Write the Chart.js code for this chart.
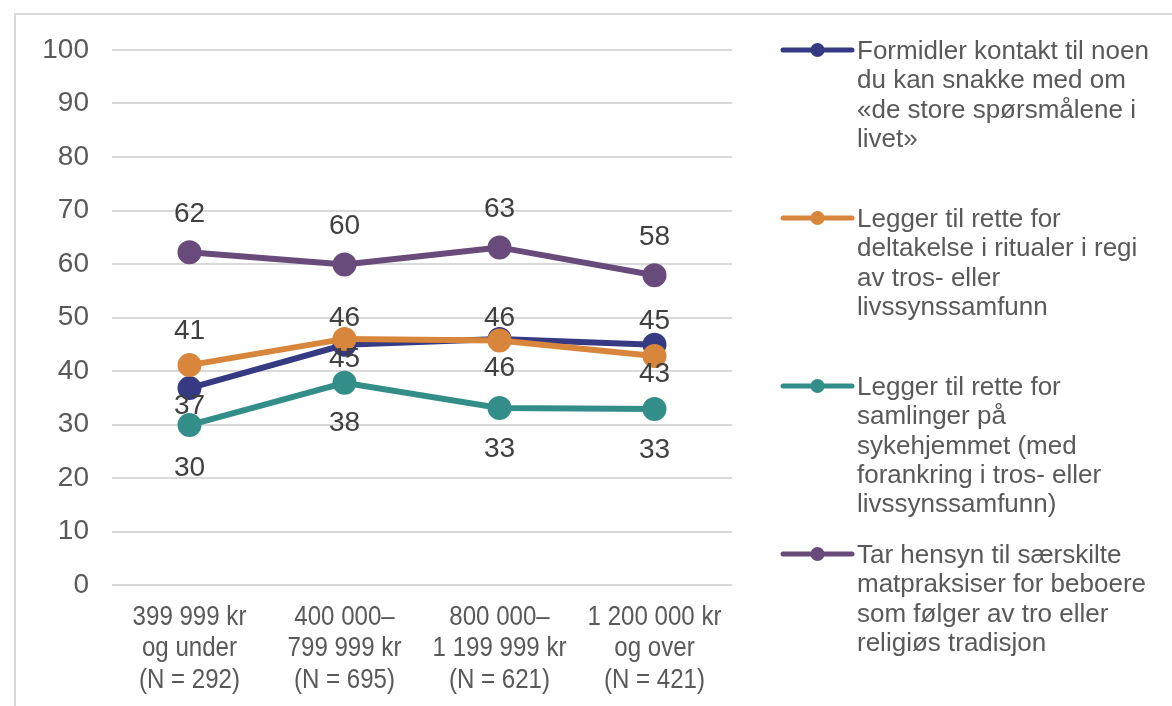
<!DOCTYPE html>
<html>
<head>
<meta charset="utf-8">
<script src="https://cdn.jsdelivr.net/npm/chart.js@4/dist/chart.umd.min.js"></script>
<style>
html,body{margin:0;padding:0;background:#fff;}
canvas{display:block;}
</style>
</head>
<body>
<canvas id="c" width="1172" height="706" style="width:1172px;height:706px"></canvas>
<script>
// ---- data ----
const categories = [
  ["399 999 kr", "og under", "(N = 292)"],
  ["400 000–", "799 999 kr", "(N = 695)"],
  ["800 000–", "1 199 999 kr", "(N = 621)"],
  ["1 200 000 kr", "og over", "(N = 421)"]
];
const seriesNames = [
  "Formidler kontakt til noen\ndu kan snakke med om\n«de store spørsmålene i\nlivet»",
  "Legger til rette for\ndeltakelse i ritualer i regi\nav tros- eller\nlivssynssamfunn",
  "Legger til rette for\nsamlinger på\nsykehjemmet (med\nforankring i tros- eller\nlivssynssamfunn)",
  "Tar hensyn til særskilte\nmatpraksiser for beboere\nsom følger av tro eller\nreligiøs tradisjon"
];
const kontakt = [36.8, 44.9, 46.0, 44.9];
const ritualer = [41.1, 46.0, 45.7, 42.8];
const samlinger = [29.9, 37.8, 33.1, 32.9];
const matpraksis = [62.2, 59.9, 63.1, 57.9];
const yTicks = [0, 10, 20, 30, 40, 50, 60, 70, 80, 90, 100];

// ---- styles ----
const colors = ["#353a83", "#d8863b", "#338e8a", "#684a7b"];
const labelOffsets = [
  [17, 13, -22, -25],
  [-35, -22, 27, 17],
  [42, 40, 40, 40],
  [-39, -39, -39, -39]
];
const FONT = "'Liberation Sans', Arial, sans-serif";

const allSeries = [kontakt, ritualer, samlinger, matpraksis];
const datasets = allSeries.map((d, i) => ({
  label: seriesNames[i],
  data: d,
  borderColor: colors[i],
  backgroundColor: colors[i],
  pointBackgroundColor: colors[i],
  pointBorderColor: colors[i],
  borderWidth: 6,
  pointRadius: 9,
  pointHoverRadius: 9,
  tension: 0,
  order: 4 - i
}));

const bgPlugin = {
  id: 'bg',
  beforeDraw(chart) {
    const ctx = chart.ctx;
    ctx.save();
    ctx.fillStyle = '#ffffff';
    ctx.fillRect(0, 0, chart.width, chart.height);
    ctx.strokeStyle = '#d9d9d9';
    ctx.lineWidth = 2;
    ctx.beginPath();
    ctx.moveTo(15, chart.height + 2);
    ctx.lineTo(15, 14);
    ctx.lineTo(chart.width + 2, 14);
    ctx.stroke();
    ctx.restore();
  }
};

// category labels drawn through the x scale, horizontally condensed like the original
const xLabelPlugin = {
  id: 'xlabels',
  afterDraw(chart) {
    const ctx = chart.ctx;
    const xs = chart.scales.x;
    ctx.save();
    ctx.font = "28px " + FONT;
    ctx.fillStyle = '#595959';
    ctx.textAlign = 'center';
    ctx.textBaseline = 'middle';
    chart.data.labels.forEach((lab, i) => {
      const x = xs.getPixelForTick(i);
      const lines = Array.isArray(lab) ? lab : [lab];
      lines.forEach((line, k) => {
        ctx.save();
        ctx.translate(x, xs.top + 32 + k * 31.5);
        ctx.scale(0.86, 1);
        ctx.fillText(line, 0, 0);
        ctx.restore();
      });
    });
    ctx.restore();
  }
};

const labelPlugin = {
  id: 'vlabels',
  afterDatasetsDraw(chart) {
    const ctx = chart.ctx;
    ctx.save();
    ctx.font = "28px " + FONT;
    ctx.fillStyle = '#404040';
    ctx.textAlign = 'center';
    ctx.textBaseline = 'middle';
    chart.data.datasets.forEach((ds, di) => {
      const meta = chart.getDatasetMeta(di);
      meta.data.forEach((pt, i) => {
        const v = Math.round(ds.data[i]);
        ctx.fillText(String(v), pt.x, pt.y + labelOffsets[di][i] + 1);
      });
    });
    ctx.restore();
  }
};

const legendPlugin = {
  id: 'customLegend',
  afterDraw(chart) {
    const ctx = chart.ctx;
    ctx.save();
    const x0 = 783, x1 = 852, tx = 857;
    const startY = 50, slot = 168, lh = 29.3;
    chart.data.datasets.forEach((ds, i) => {
      const y = startY + i * slot;
      ctx.strokeStyle = ds.borderColor;
      ctx.lineWidth = 5;
      ctx.lineCap = 'round';
      ctx.beginPath();
      ctx.moveTo(x0, y);
      ctx.lineTo(x1, y);
      ctx.stroke();
      ctx.fillStyle = ds.borderColor;
      ctx.beginPath();
      ctx.arc((x0 + x1) / 2, y, 7, 0, Math.PI * 2);
      ctx.fill();
      ctx.fillStyle = '#595959';
      ctx.font = "26px " + FONT;
      ctx.textAlign = 'left';
      ctx.textBaseline = 'middle';
      ds.label.split('\n').forEach((line, k) => {
        ctx.fillText(line, tx, y + 2 + k * lh);
      });
    });
    ctx.restore();
  }
};

new Chart(document.getElementById('c'), {
  type: 'line',
  data: { labels: categories, datasets },
  options: {
    responsive: false,
    devicePixelRatio: 1,
    animation: false,
    layout: { padding: { left: 0, top: 50, right: 440, bottom: 0 } },
    plugins: {
      legend: { display: false },
      tooltip: { enabled: false }
    },
    scales: {
      x: {
        offset: true,
        grid: { display: false, drawTicks: false },
        border: { display: false },
        ticks: { display: false },
        afterFit(scale) { scale.height = 121; }
      },
      y: {
        min: 0,
        max: 100,
        afterBuildTicks(scale) { scale.ticks = yTicks.map(v => ({ value: v })); },
        grid: { color: '#d9d9d9', lineWidth: 2, drawTicks: false },
        border: { display: false },
        ticks: {
          color: '#595959',
          font: { family: FONT, size: 28 },
          padding: 23
        },
        afterFit(scale) { scale.width = 112; }
      }
    }
  },
  plugins: [bgPlugin, labelPlugin, xLabelPlugin, legendPlugin]
});
</script>
</body>
</html>
